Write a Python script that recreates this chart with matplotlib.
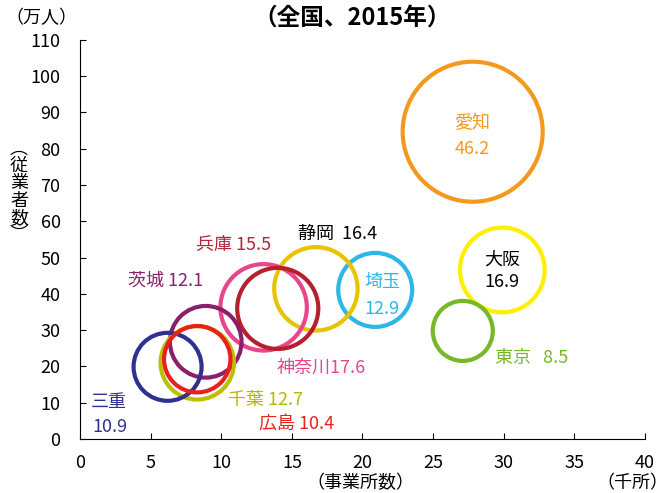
import matplotlib
matplotlib.use('Agg')
import matplotlib.pyplot as plt

plt.rcParams['font.family'] = ['Noto Sans CJK JP', 'DejaVu Sans']

# data (x: 千所, y: 万人, bubble: label value)
prefs = ["愛知", "大阪", "東京", "埼玉", "静岡", "神奈川", "兵庫", "茨城", "千葉", "三重", "広島"]
offices = [27.8, 29.9, 27.1, 20.9, 16.7, 13.0, 14.0, 8.9, 8.3, 6.2, 8.3]
workers = [84.7, 46.6, 29.8, 41.1, 41.4, 36.3, 36.0, 26.8, 21.0, 19.9, 22.0]
values = [46.2, 16.9, 8.5, 12.9, 16.4, 17.6, 15.5, 12.1, 12.7, 10.9, 10.4]

ring_colors = ['#F39A1E', '#FFF000', '#76B82A', '#2DB6E8', '#E8C400', '#E8458B',
               '#B51F2E', '#8B1F6A', '#BCC000', '#2E3192', '#E8221B']
text_colors = ['#F39A1E', '#000000', '#76B82A', '#2DB6E8', '#000000', '#E8458B',
               '#B5263A', '#8B1F6A', '#B5B800', '#2E3192', '#E8221B']

# label layout: (x, y, text, ha)
labels = [
    (27.8, 87.0, "愛知", 'center'), (27.8, 79.9, "46.2", 'center'),
    (29.9, 49.5, "大阪", 'center'), (29.9, 43.2, "16.9", 'center'),
    (29.4, 22.3, "東京   8.5", 'left'),
    (21.4, 43.3, "埼玉", 'center'), (21.4, 35.8, "12.9", 'center'),
    (15.4, 56.5, "静岡  16.4", 'left'),
    (13.9, 19.5, "神奈川17.6", 'left'),
    (8.2, 53.5, "兵庫 15.5", 'left'),
    (3.4, 43.6, "茨城 12.1", 'left'),
    (10.5, 10.7, "千葉 12.7", 'left'),
    (0.8, 10.3, "三重", 'left'), (0.9, 3.4, "10.9", 'left'),
    (12.7, 4.3, "広島 10.4", 'left'),
]
label_owner = [0, 0, 1, 1, 2, 3, 3, 4, 5, 6, 7, 8, 9, 9, 10]

fig = plt.figure(figsize=(6.69, 4.93), dpi=100)
ax = fig.add_axes([0.1196, 0.1095, 0.8445, 0.8095])

for i in range(len(prefs)):
    ax.scatter(offices[i], workers[i], s=220 * values[i], facecolors='none',
               edgecolors=ring_colors[i], linewidths=3.0, zorder=2 + i)

for (x, y, t, ha), k in zip(labels, label_owner):
    ax.text(x, y, t, ha=ha, va='center', fontsize=13, color=text_colors[k], zorder=20)

ax.set_xlim(0, 40)
ax.set_ylim(0, 110)
ax.set_xticks(range(0, 41, 5))
ax.set_yticks(range(0, 111, 10))
ax.spines['top'].set_visible(False)
ax.spines['right'].set_visible(False)
ax.tick_params(direction='in', length=4, labelsize=13)
ax.tick_params(axis='x', pad=11)
ax.tick_params(axis='y', pad=14)

fig.text(352 / 669, 1 - 18 / 493, "（全国、2015年）", ha='center', va='center',
         fontsize=17, fontweight='bold')
fig.text(5 / 669, 1 - 18 / 493, "（万人）", ha='left', va='center', fontsize=13)
fig.text(19 / 669, 1 - 192 / 493, "︵\n従\n業\n者\n数\n︶", ha='center', va='center',
         fontsize=13, linespacing=0.95)
fig.text(360 / 669, 1 - 483 / 493, "（事業所数）", ha='center', va='center', fontsize=13)
fig.text(632 / 669, 1 - 483 / 493, "（千所）", ha='center', va='center', fontsize=13)

fig.savefig('out.png', dpi=100)
